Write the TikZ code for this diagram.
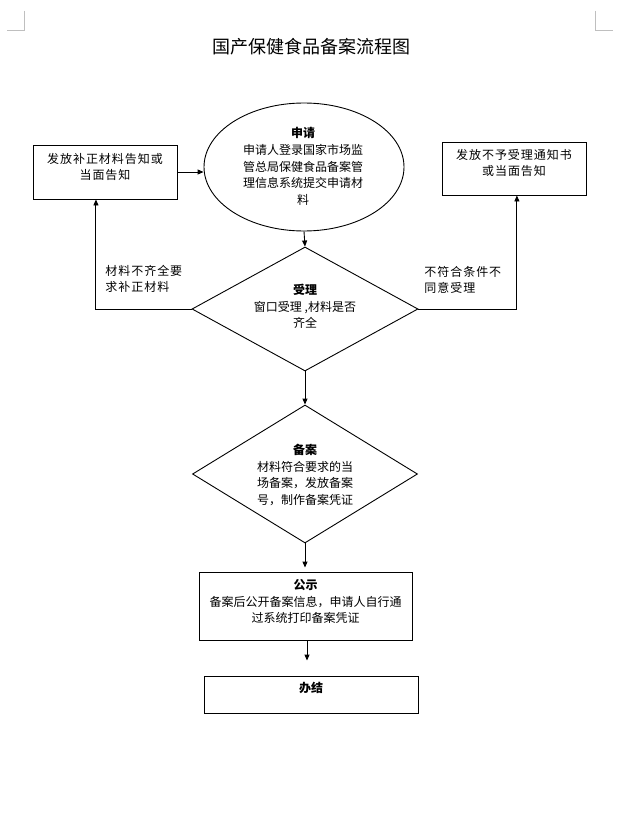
\documentclass[tikz,border=0pt]{standalone}
\usepackage{fontspec}
\setmainfont{Noto Sans CJK SC}
\newfontfamily\cjkls[LetterSpace=8]{Noto Sans CJK SC}
\usetikzlibrary{shapes.geometric,arrows.meta,calc}
\begin{document}
\begin{tikzpicture}[x=1pt,y=-1pt,line width=0.9pt,
  shapebox/.style={draw,rectangle,inner sep=0pt},
  txt/.style={align=center,inner sep=0pt,font=\fontsize{12}{16.6}\selectfont},
  wtxt/.style={align=center,inner sep=0pt,font=\cjkls\fontsize{12}{16}\selectfont},
  ltxt/.style={align=left,inner sep=0pt,font=\cjkls\fontsize{12}{16}\selectfont},
  arr/.style={-{Triangle[length=6pt,width=5pt]}},
  corner/.style={draw=black!25,line width=0.8pt}]
\useasboundingbox[fill=white] (0,0) rectangle (624,829);
% corner marks
\coordinate (tl1) at (24,11); \coordinate (tl2) at (24,30); \coordinate (tl3) at (7,30);
\coordinate (tr1) at (595,11); \coordinate (tr2) at (595,30); \coordinate (tr3) at (613,30);
\draw[corner] (tl1) -- (tl2) -- (tl3);
\draw[corner] (tr1) -- (tr2) -- (tr3);
% title
\node[inner sep=0pt,font=\fontsize{18}{20}\selectfont] (title) at (311.5,47) {国产保健食品备案流程图};
% shapes
\node[draw,ellipse,inner sep=0pt,minimum width=200pt,minimum height=128pt] (ell) at (304,167) {};
\node[shapebox,minimum width=144pt,minimum height=54pt] (lbox) at (105,172) {};
\node[shapebox,minimum width=144pt,minimum height=53pt] (rbox) at (514,168.5) {};
\node[draw,diamond,inner sep=0pt,minimum width=226pt,minimum height=124pt] (d1) at (305,309) {};
\node[draw,diamond,inner sep=0pt,minimum width=225pt,minimum height=138pt] (d2) at (305,474) {};
\node[shapebox,minimum width=213pt,minimum height=68pt] (gs) at (305.5,606) {};
\node[shapebox,minimum width=214pt,minimum height=37pt] (bj) at (311,694.5) {};
% texts
\node[txt] (ellt) at (303,166.5) {\textbf{申请}\\申请人登录国家市场监\\管总局保健食品备案管\\理信息系统提交申请材\\料};
\node[wtxt] (lboxt) at (105,167) {发放补正材料告知或\\当面告知};
\node[wtxt] (rboxt) at (514,163) {发放不予受理通知书\\或当面告知};
\node[ltxt,anchor=west] (llab) at (105,279) {材料不齐全要\\求补正材料};
\node[ltxt,anchor=west] (rlab) at (424,279.5) {不符合条件不\\同意受理};
\node[txt] (d1t) at (305,306.5) {\textbf{受理}\\窗口受理 ,材料是否\\齐全};
\node[txt] (d2t) at (305,475) {\textbf{备案}\\材料符合要求的当\\场备案，发放备案\\号，制作备案凭证};
\node[txt] (gst) at (305.5,601.5) {\textbf{公示}\\备案后公开备案信息，申请人自行通\\过系统打印备案凭证};
\node[txt] (bjt) at (311,688) {\textbf{办结}};
% connectors
\coordinate (lup) at ($(lbox.south west)!0.4375!(lbox.south east)$);
\coordinate (rup) at ($(rbox.south west)!0.52!(rbox.south east)$);
\coordinate (gsb) at ($(gs.south)+(1.5,0)$);
\coordinate (gsin) at ($(d2.south |- gs.north)+(0,-4)$);
\coordinate (bjin) at ($(gsb |- bj.north)+(0,-15)$);
\draw[arr] (lbox.east) -- (lbox.east -| ell.west);
\draw[arr] (ell.south) -- (d1.north);
\draw[arr] (d1.west) -| (lup);
\draw[arr] (d1.east) -| (rup);
\draw[arr] (d1.south) -- (d2.north);
\draw[arr] (d2.south) -- (gsin);
\draw[arr] (gsb) -- (bjin);
\end{tikzpicture}
\end{document}
